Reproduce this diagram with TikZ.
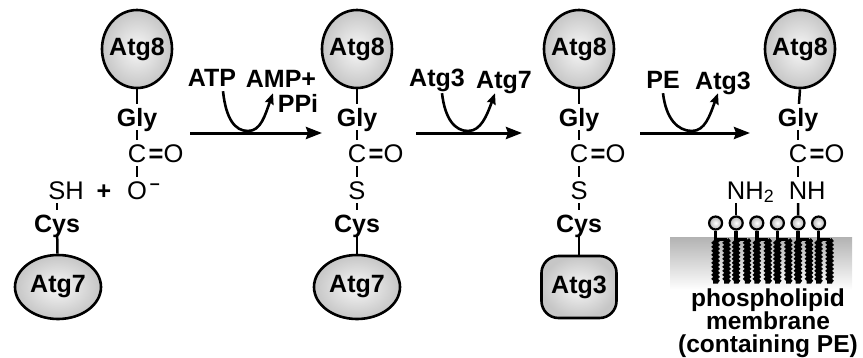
\documentclass[tikz,border=0pt]{standalone}
\usepackage{fontspec}
\setmainfont{Liberation Sans}
\usetikzlibrary{arrows.meta,positioning,shapes.geometric,decorations.pathmorphing}

\begin{document}
\begin{tikzpicture}[
    x=1pt,y=-1pt,
    bold/.style={font=\bfseries\fontsize{25}{27}\selectfont,inner xsep=1pt,inner ysep=4pt,text height=18pt,text depth=0pt},
    atom/.style={font=\fontsize{25.5}{27}\selectfont,inner xsep=1pt,inner ysep=4pt,text height=18pt,text depth=0pt},
    protein/.style={draw,line width=2.6pt,inner sep=-8pt,shading=radial,inner color=gray!6,outer color=gray!45,font=\bfseries\fontsize{25}{27}\selectfont},
    atgeight/.style={protein,ellipse,minimum width=70pt,minimum height=78pt},
    atgseven/.style={protein,ellipse,minimum width=86pt,minimum height=64pt},
    atgthree/.style={protein,rectangle,inner sep=2pt,rounded corners=17pt,minimum width=75pt,minimum height=62pt},
    bond/.style={line width=2.5pt},
    arrow/.style={line width=3pt,-{Stealth[length=16pt,width=12pt,inset=2pt]}},
    swing/.style={line width=2.6pt,-{Stealth[length=11pt,width=9pt,inset=1.5pt]}},
    head/.style={circle,draw,line width=2.2pt,minimum size=13pt,inner sep=0pt,shading=radial,inner color=white,outer color=gray!60},
    tail/.style={line width=4.8pt,decorate,decoration={snake,segment length=4pt,amplitude=1pt}},
    membrane/.style={rectangle,inner sep=0pt,minimum width=182pt,minimum height=53pt,top color=gray!60,bottom color=white}
]
    \useasboundingbox (0,0) rectangle (863,357);

    % Atg8 + Atg7 before activation
    \node[atgeight] (a8a) at (137,49) {Atg8};
    \node[bold] (glya) at (137,117) {Gly};
    \node[atom] (ca) at (137,153) {C};
    \node[atom,right=0pt of ca] (oxa) {{\bfseries=}O};
    \node[atom] (oma) at (137,190) {O\rlap{\textsuperscript{\bfseries\,–}}};
    \node[bold] (plus) at (104,190) {+};
    \node[atom] (sh) at (66,190) {SH};
    \node[bold] (cysa) at (57,223) {Cys};
    \node[atgseven] (a7a) at (58,287) {Atg7};
    \draw[bond] (a8a) -- (glya);
    \draw[bond] (glya) -- (ca);
    \draw[bond] (ca) -- (oma);
    \draw[bond] (cysa.north) -- (cysa.north |- sh.south);
    \draw[bond] (cysa) -- (a7a);

    % Atg8~Atg7 thioester
    \node[atgeight] (a8b) at (357,49) {Atg8};
    \node[bold] (glyb) at (357,117) {Gly};
    \node[atom] (cb) at (357,153) {C};
    \node[atom,right=0pt of cb] (oxb) {{\bfseries=}O};
    \node[atom] (sb) at (357,190) {S};
    \node[bold] (cysb) at (357,223) {Cys};
    \node[atgseven] (a7b) at (357,287) {Atg7};
    \draw[bond] (a8b) -- (glyb);
    \draw[bond] (glyb) -- (cb);
    \draw[bond] (cb) -- (sb);
    \draw[bond] (sb) -- (cysb);
    \draw[bond] (cysb) -- (a7b);

    % Atg8~Atg3 thioester
    \node[atgeight] (a8c) at (579,49) {Atg8};
    \node[bold] (glyc) at (579,117) {Gly};
    \node[atom] (cc) at (579,153) {C};
    \node[atom,right=0pt of cc] (oxc) {{\bfseries=}O};
    \node[atom] (sc) at (579,190) {S};
    \node[bold] (cysc) at (579,223) {Cys};
    \node[atgthree] (a3c) at (579,287) {Atg3};
    \draw[bond] (a8c) -- (glyc);
    \draw[bond] (glyc) -- (cc);
    \draw[bond] (cc) -- (sc);
    \draw[bond] (sc) -- (cysc);
    \draw[bond] (cysc) -- (a3c);

    % Atg8-PE on the membrane
    \node[membrane] (mem) at (761,263.5) {};
    \foreach \i in {0,...,5} {
        \node[head] (h\i) at ({715.6+20.6*\i},223) {};
        \draw[tail] ([yshift=-9pt]h\i.south) -- ++(0,44);
        \draw[tail] ([xshift=11pt,yshift=-9pt]h\i.south) -- ++(0,44);
        \draw[line width=3.5pt] (h\i.south) -- ++(0,9) -- ++(11,0);
    }
    \node[atgeight] (a8d) at (800,49) {Atg8};
    \node[bold] (glyd) at (798,117) {Gly};
    \node[atom] (cd) at (798,153) {C};
    \node[atom,right=0pt of cd] (oxd) {{\bfseries=}O};
    \node[atom] (nh) at (798,190) {N\rlap{H}};
    \node[atom] (nhtwo) at (736.2,190) {N\rlap{H\textsubscript{2}}};
    \draw[bond] (a8d.south) -- (glyd);
    \draw[bond] (glyd) -- (cd);
    \draw[bond] (cd) -- (nh);
    \draw[bond] (nh) -- (h4);
    \draw[bond] (h1) -- (h1 |- nhtwo.south);
    \node[font=\bfseries\fontsize{24.5}{23}\selectfont,align=center,inner sep=0pt] (memtxt) at (768,323) {phospholipid\\membrane\\(containing PE)};

    % reaction arrows
    \coordinate (s1) at (190,133);
    \coordinate (e1) at (322,133);
    \coordinate (b1) at (248,131);
    \draw[arrow] (s1) -- (e1);
    \node[bold] (atp) at (212,77) {ATP};
    \node[bold] (amp) at (281,78) {AMP+};
    \node[bold] (ppi) at (298,103) {PPi};
    \draw[swing] ([xshift=11pt,yshift=-1pt]atp.south) .. controls +(3,28) and +(-13,0) .. (b1)
        .. controls +(13,0) and +(-8,22) .. ([xshift=-8pt,yshift=-2pt]amp.south);

    \coordinate (s2) at (416,133);
    \coordinate (e2) at (522,133);
    \coordinate (b2) at (468,131);
    \draw[arrow] (s2) -- (e2);
    \node[bold] (atgthree) at (437,77) {Atg3};
    \node[bold] (atgseven) at (504,79) {Atg7};
    \draw[swing] ([xshift=5pt,yshift=-3pt]atgthree.south) .. controls +(3,26) and +(-13,0) .. (b2)
        .. controls +(13,0) and +(-8,22) .. ([xshift=-9pt,yshift=-1pt]atgseven.south);

    \coordinate (s3) at (640,133);
    \coordinate (e3) at (750,133);
    \coordinate (b3) at (692,131);
    \draw[arrow] (s3) -- (e3);
    \node[bold] (pe) at (663,79) {PE};
    \node[bold] (atgthreeb) at (723,80) {Atg3};
    \draw[swing] ([yshift=-1pt]pe.south) .. controls +(3,26) and +(-14,0) .. (b3)
        .. controls +(13,0) and +(-8,22) .. ([xshift=-5pt]atgthreeb.south);
\end{tikzpicture}
\end{document}
